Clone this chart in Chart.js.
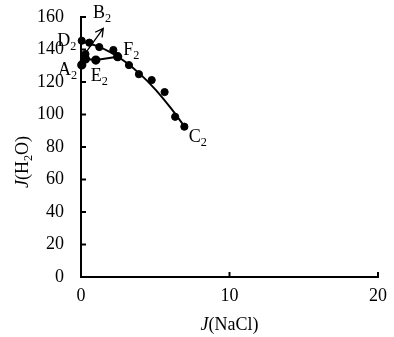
<!DOCTYPE html>
<html>
<head>
<meta charset="utf-8">
<script src="https://cdn.jsdelivr.net/npm/chart.js@4.4.1/dist/chart.umd.min.js"></script>
<style>
  body { margin: 0; background: #fff; }
  canvas { display: block; }
</style>
</head>
<body>
<canvas id="chart" width="394" height="337"></canvas>
<script>
// measured points on the upper branch (D2 ... F2 ... C2)
var upperX = [0.05, 0.56, 1.23, 2.18, 2.47, 3.23, 3.9, 4.76, 5.63, 6.34, 6.96];
var upperY = [145.4, 144.2, 141.5, 139.7, 135.6, 130.4, 124.8, 121.2, 113.8, 98.6, 92.5];

// smooth trend line through the upper branch
var curveX = [0, 1, 2, 3, 4, 5, 6, 7];
var curveY = [145, 142.4, 138.2, 132.3, 124.7, 115.5, 104.5, 92.3];

// lower branch A2 -> E2 -> F2
var lowerX = [0.05, 0.3, 1.0, 2.47];
var lowerY = [130.5, 134.2, 133.5, 135.6];

// B2 point and its pointer
var pointB = [0.3, 137.2];
var arrowFrom = [0.2, 136.5];
var arrowTo = [1.5, 153];

var xTicks = [0, 10, 20];
var yTicks = [0, 20, 40, 60, 80, 100, 120, 140, 160];

// point labels: text, data x, data y
var tags = [
  ['B', 0.8, 162.3],
  ['D', -1.6, 145],
  ['A', -1.55, 127],
  ['E', 0.65, 123.5],
  ['F', 2.85, 139.5],
  ['C', 7.25, 86]
];

var black = '#000';
var serif = '"Liberation Serif", "Times New Roman", serif';
var fs = 18;

function pts(xs, ys) {
  return xs.map(function (x, i) { return { x: x, y: ys[i] }; });
}

// text with italic / subscript parts
function richText(ctx, parts, x, y, size, align) {
  var total = 0;
  parts.forEach(function (p) {
    ctx.font = (p.it ? 'italic ' : '') + (p.sub ? size * 0.68 : size) + 'px ' + serif;
    p.w = ctx.measureText(p.t).width;
    total += p.w;
  });
  var cx = align === 'center' ? x - total / 2 : x;
  parts.forEach(function (p) {
    ctx.font = (p.it ? 'italic ' : '') + (p.sub ? size * 0.68 : size) + 'px ' + serif;
    ctx.fillText(p.t, cx, y + (p.sub ? size * 0.3 : 0));
    cx += p.w;
  });
}

var extras = {
  id: 'extras',
  afterDraw: function (chart) {
    var ctx = chart.ctx;
    var xs = chart.scales.x, ys = chart.scales.y;
    var left = chart.chartArea.left, bottom = chart.chartArea.bottom;
    ctx.save();
    ctx.strokeStyle = black;
    ctx.fillStyle = black;
    ctx.lineWidth = 2;

    // inward tick marks
    xTicks.forEach(function (v) {
      var px = xs.getPixelForValue(v);
      ctx.beginPath(); ctx.moveTo(px, bottom); ctx.lineTo(px, bottom - 5); ctx.stroke();
    });
    yTicks.forEach(function (v) {
      var py = ys.getPixelForValue(v);
      ctx.beginPath(); ctx.moveTo(left, py); ctx.lineTo(left + 5, py); ctx.stroke();
    });

    // arrow pointing at B2
    var x1 = xs.getPixelForValue(arrowFrom[0]), y1 = ys.getPixelForValue(arrowFrom[1]);
    var x2 = xs.getPixelForValue(arrowTo[0]), y2 = ys.getPixelForValue(arrowTo[1]);
    var a = Math.atan2(y2 - y1, x2 - x1);
    ctx.lineWidth = 1.3;
    ctx.beginPath();
    ctx.moveTo(x1, y1); ctx.lineTo(x2, y2);
    ctx.moveTo(x2 - 9 * Math.cos(a - 0.5), y2 - 9 * Math.sin(a - 0.5));
    ctx.lineTo(x2, y2);
    ctx.lineTo(x2 - 9 * Math.cos(a + 0.5), y2 - 9 * Math.sin(a + 0.5));
    ctx.stroke();

    // point labels
    ctx.textAlign = 'left';
    ctx.textBaseline = 'middle';
    tags.forEach(function (t) {
      richText(ctx, [{ t: t[0] }, { t: '2', sub: true }],
        xs.getPixelForValue(t[1]), ys.getPixelForValue(t[2]), fs, 'left');
    });

    // axis titles
    richText(ctx, [{ t: 'J', it: true }, { t: '(NaCl)' }],
      (chart.chartArea.left + chart.chartArea.right) / 2, 325, fs, 'center');
    ctx.translate(23, 162);
    ctx.rotate(-Math.PI / 2);
    richText(ctx, [{ t: 'J', it: true }, { t: '(H' }, { t: '2', sub: true }, { t: 'O)' }],
      0, 0, fs, 'center');
    ctx.restore();
  }
};

new Chart(document.getElementById('chart'), {
  type: 'scatter',
  data: {
    datasets: [{
      data: pts(curveX, curveY),
      showLine: true,
      borderColor: black,
      borderWidth: 2,
      pointRadius: 0,
      clip: false,
      cubicInterpolationMode: 'monotone'
    }, {
      data: pts(lowerX, lowerY),
      showLine: true,
      borderColor: black,
      backgroundColor: black,
      borderWidth: 2,
      clip: false,
      pointRadius: 3.6
    }, {
      data: pts(upperX, upperY),
      backgroundColor: black,
      borderColor: black,
      clip: false,
      pointRadius: 3.6
    }, {
      data: [{ x: pointB[0], y: pointB[1] }],
      backgroundColor: black,
      borderColor: black,
      clip: false,
      pointRadius: 3.6
    }]
  },
  options: {
    responsive: false,
    animation: false,
    devicePixelRatio: 1,
    layout: { padding: { top: 17, right: 16, left: 0, bottom: 0 } },
    plugins: { legend: { display: false }, tooltip: { enabled: false } },
    scales: {
      x: {
        type: 'linear',
        min: 0, max: 20,
        afterBuildTicks: function (s) { s.ticks = xTicks.map(function (v) { return { value: v }; }); },
        afterFit: function (s) { s.height = 60; s.paddingLeft = 0; s.paddingRight = 0; },
        ticks: { color: black, padding: 8, font: { family: serif, size: fs } },
        grid: { drawOnChartArea: false, drawTicks: false },
        border: { color: black, width: 2 }
      },
      y: {
        min: 0, max: 160,
        afterBuildTicks: function (s) { s.ticks = yTicks.map(function (v) { return { value: v }; }); },
        afterFit: function (s) { s.width = 81; s.paddingTop = 0; s.paddingBottom = 0; },
        ticks: { color: black, padding: 17, font: { family: serif, size: fs } },
        grid: { drawOnChartArea: false, drawTicks: false },
        border: { color: black, width: 2 }
      }
    }
  },
  plugins: [extras]
});
</script>
</body>
</html>
